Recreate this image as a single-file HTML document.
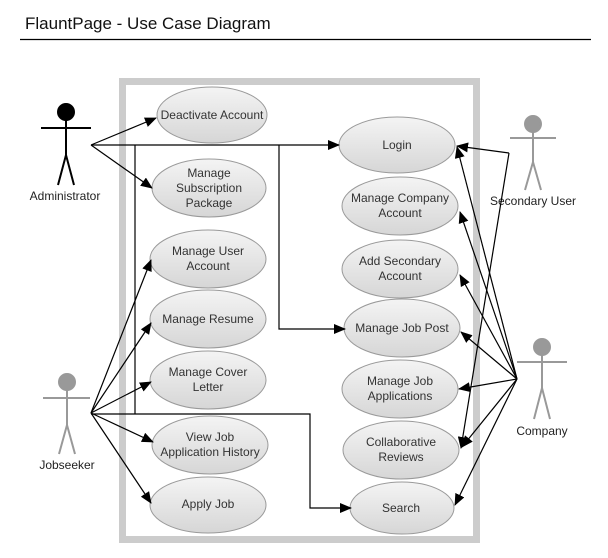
<!DOCTYPE html>
<html><head><meta charset="utf-8"><style>
html,body{margin:0;padding:0;background:#fff;}
svg{display:block;}
text{font-family:"Liberation Sans",Arial,sans-serif;}
</style></head><body>
<svg width="608" height="558" viewBox="0 0 608 558" xmlns="http://www.w3.org/2000/svg">
<defs>
<linearGradient id="g" x1="0" y1="0" x2="0" y2="1">
<stop offset="0" stop-color="#f4f4f4"/><stop offset="1" stop-color="#d6d6d6"/>
</linearGradient>
<marker id="a" markerWidth="12" markerHeight="10" refX="11" refY="5" orient="auto" markerUnits="userSpaceOnUse">
<path d="M0,0 L12,5 L0,10 z" fill="#000"/>
</marker>
</defs>
<text x="25" y="29" font-size="17" fill="#111">FlauntPage - Use Case Diagram</text>
<line x1="20" y1="39.5" x2="591" y2="39.5" stroke="#000" stroke-width="1.3"/>
<rect x="122.5" y="81.5" width="354" height="458" fill="none" stroke="#cccccc" stroke-width="7"/>

<g fill="url(#g)" stroke="#9a9a9a" stroke-width="1">
<ellipse cx="212" cy="115" rx="55" ry="28"/>
<ellipse cx="209" cy="188" rx="57" ry="29"/>
<ellipse cx="208" cy="259" rx="58" ry="29"/>
<ellipse cx="208" cy="319" rx="58" ry="29"/>
<ellipse cx="208" cy="380" rx="58" ry="29"/>
<ellipse cx="210" cy="445" rx="58" ry="29"/>
<ellipse cx="208" cy="505" rx="58" ry="28"/>
<ellipse cx="397" cy="145" rx="58" ry="28"/>
<ellipse cx="400" cy="206" rx="58" ry="29"/>
<ellipse cx="400" cy="269" rx="58" ry="29"/>
<ellipse cx="402" cy="328" rx="58" ry="29"/>
<ellipse cx="400" cy="389" rx="58" ry="29"/>
<ellipse cx="401" cy="450" rx="58" ry="29"/>
<ellipse cx="402" cy="508" rx="52" ry="26"/>
</g>
<g font-size="12" fill="#333" text-anchor="middle">
<text x="212" y="119">Deactivate Account</text>
<text x="209" y="177">Manage</text><text x="209" y="192">Subscription</text><text x="209" y="207">Package</text>
<text x="208" y="255">Manage User</text><text x="208" y="270">Account</text>
<text x="208" y="323">Manage Resume</text>
<text x="208" y="376">Manage Cover</text><text x="208" y="391">Letter</text>
<text x="210" y="441">View Job</text><text x="210" y="456">Application History</text>
<text x="208" y="508">Apply Job</text>
<text x="397" y="149">Login</text>
<text x="400" y="202">Manage Company</text><text x="400" y="217">Account</text>
<text x="400" y="265">Add Secondary</text><text x="400" y="280">Account</text>
<text x="402" y="332">Manage Job Post</text>
<text x="400" y="385">Manage Job</text><text x="400" y="400">Applications</text>
<text x="401" y="446">Collaborative</text><text x="401" y="461">Reviews</text>
<text x="401" y="512">Search</text>
</g>

<g stroke="#000" stroke-width="2" fill="none">
<circle cx="66" cy="112" r="8" fill="#000"/>
<line x1="41" y1="128" x2="91" y2="128"/><line x1="66" y1="120" x2="66" y2="155"/>
<line x1="66" y1="155" x2="58" y2="185"/><line x1="66" y1="155" x2="74" y2="185"/>
</g>
<g stroke="#999" stroke-width="2" fill="none">
<circle cx="533" cy="124" r="8" fill="#999"/>
<line x1="510" y1="138" x2="556" y2="138"/><line x1="533" y1="132" x2="533" y2="162"/>
<line x1="533" y1="162" x2="525" y2="190"/><line x1="533" y1="162" x2="541" y2="190"/>
<circle cx="67" cy="382" r="8" fill="#999"/>
<line x1="43" y1="398" x2="90" y2="398"/><line x1="67" y1="390" x2="67" y2="425"/>
<line x1="67" y1="425" x2="59" y2="454"/><line x1="67" y1="425" x2="75" y2="454"/>
<circle cx="542" cy="347" r="8" fill="#999"/>
<line x1="517" y1="362" x2="567" y2="362"/><line x1="542" y1="355" x2="542" y2="388"/>
<line x1="542" y1="388" x2="534" y2="419"/><line x1="542" y1="388" x2="550" y2="419"/>
</g>
<g font-size="12" fill="#222" text-anchor="middle">
<text x="65" y="200">Administrator</text>
<text x="533" y="205">Secondary User</text>
<text x="67" y="469">Jobseeker</text>
<text x="542" y="435">Company</text>
</g>

<g stroke="#000" stroke-width="1.2" fill="none">
<line x1="91" y1="145" x2="156" y2="118" marker-end="url(#a)"/>
<line x1="91" y1="145" x2="152" y2="188" marker-end="url(#a)"/>
<line x1="91" y1="145" x2="339" y2="145" marker-end="url(#a)"/>
<line x1="135" y1="145" x2="135" y2="414"/>
<polyline points="279,145 279,329 345,329" marker-end="url(#a)"/>

<line x1="91" y1="413" x2="151" y2="260" marker-end="url(#a)"/>
<line x1="91" y1="413" x2="151" y2="323" marker-end="url(#a)"/>
<line x1="91" y1="413" x2="151" y2="382" marker-end="url(#a)"/>
<line x1="91" y1="413" x2="153" y2="442" marker-end="url(#a)"/>
<line x1="91" y1="413" x2="151" y2="503" marker-end="url(#a)"/>
<polyline points="91,414 310,414 310,508 351,508" marker-end="url(#a)"/>

<line x1="509" y1="153" x2="457" y2="146" marker-end="url(#a)"/>
<line x1="509" y1="153" x2="461" y2="448" marker-end="url(#a)"/>

<line x1="517" y1="379" x2="457" y2="147" marker-end="url(#a)"/>
<line x1="517" y1="379" x2="460" y2="212" marker-end="url(#a)"/>
<line x1="517" y1="379" x2="460" y2="275" marker-end="url(#a)"/>
<line x1="517" y1="379" x2="461" y2="332" marker-end="url(#a)"/>
<line x1="517" y1="379" x2="459" y2="389" marker-end="url(#a)"/>
<line x1="517" y1="379" x2="462" y2="447" marker-end="url(#a)"/>
<line x1="517" y1="379" x2="455" y2="505" marker-end="url(#a)"/>
</g>
</svg>
</body></html>
